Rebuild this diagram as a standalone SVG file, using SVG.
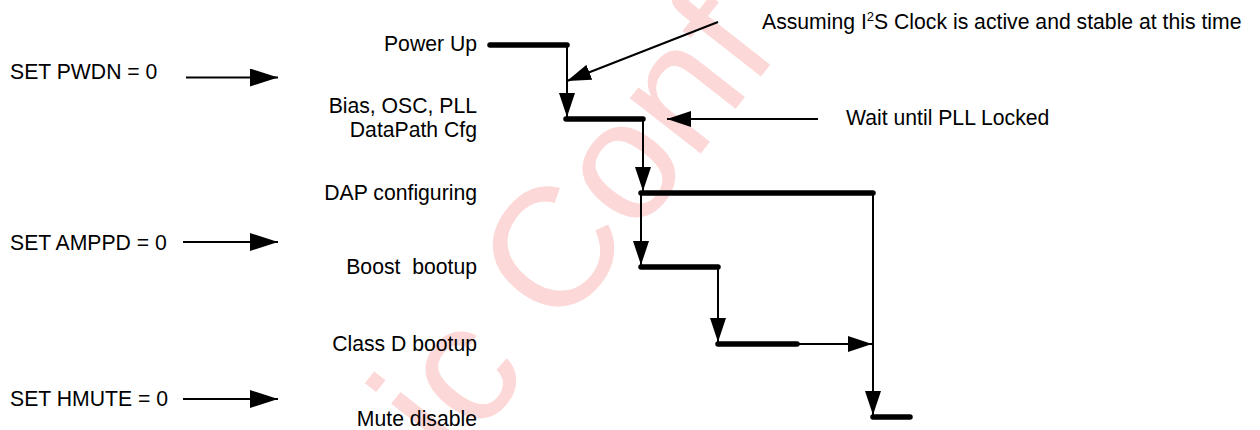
<svg xmlns="http://www.w3.org/2000/svg" width="1260" height="430" viewBox="0 0 1260 430">
<defs>
<style>
text { font-family: "Liberation Sans", Arial, sans-serif; font-size: 21.2px; fill: #000; }
.r { text-anchor: end; }
.thin { stroke: #000; stroke-width: 2; fill: none; }
.bar { stroke: #000; stroke-width: 5.5; stroke-linecap: round; fill: none; }
.wm { font-size: 170px; fill: #fcd8d8; }
</style>
<marker id="ah" markerUnits="userSpaceOnUse" markerWidth="24" markerHeight="16" refX="24" refY="8" orient="auto"><path d="M0,0 L24,8 L0,16 Z" fill="#000"/></marker>
<marker id="ahL" markerUnits="userSpaceOnUse" markerWidth="28" markerHeight="18" refX="28" refY="9" orient="auto"><path d="M0,0 L28,9 L0,18 Z" fill="#000"/></marker>
</defs>
<rect width="1260" height="430" fill="#fff"/>
<g id="watermark"><text class="wm" transform="translate(455,468) rotate(-52)">ic Conf</text></g>

<g id="set-pwdn"><text x="10" y="78.5">SET PWDN = 0</text></g>
<g id="set-amppd"><text x="10" y="249.5">SET AMPPD = 0</text></g>
<g id="set-hmute"><text x="10" y="406">SET HMUTE = 0</text></g>

<g id="power-up"><text class="r" x="477" y="51">Power Up</text><line class="bar" x1="490" y1="45" x2="567" y2="45"/></g>
<g id="bias"><text class="r" x="477" y="113">Bias, OSC, PLL</text><text class="r" x="477" y="136.5">DataPath Cfg</text><line class="bar" x1="566" y1="119" x2="643" y2="119"/></g>
<g id="dap"><text class="r" x="477" y="199.5">DAP configuring</text><line class="bar" x1="641" y1="193" x2="873" y2="193"/></g>
<g id="boost"><text class="r" x="477" y="274" xml:space="preserve">Boost  bootup</text><line class="bar" x1="641" y1="267" x2="718" y2="267"/></g>
<g id="classd"><text class="r" x="477" y="351">Class D bootup</text><line class="bar" x1="718" y1="344" x2="797" y2="344"/></g>
<g id="mute"><text class="r" x="477" y="425.5">Mute disable</text><line class="bar" x1="873" y1="417" x2="910" y2="417"/></g>

<g id="note-i2s"><text x="762" y="28.5">Assuming I<tspan font-size="13" dy="-8">2</tspan><tspan dy="8">S Clock is active and stable at this time</tspan></text></g>
<g id="note-pll"><text x="846" y="125">Wait until PLL Locked</text></g>

<g id="connectors">
<line class="thin" x1="186" y1="77.5" x2="278" y2="77.5" marker-end="url(#ahL)"/>
<line class="thin" x1="183" y1="242" x2="278" y2="242" marker-end="url(#ahL)"/>
<line class="thin" x1="183" y1="399" x2="278" y2="399" marker-end="url(#ahL)"/>
<line class="thin" x1="567" y1="45" x2="567" y2="117" marker-end="url(#ah)"/>
<line class="thin" x1="643" y1="119" x2="643" y2="191" marker-end="url(#ah)"/>
<line class="thin" x1="641" y1="193" x2="641" y2="265" marker-end="url(#ah)"/>
<line class="thin" x1="718" y1="267" x2="718" y2="342" marker-end="url(#ah)"/>
<line class="thin" x1="873" y1="193" x2="873" y2="415" marker-end="url(#ah)"/>
<line class="thin" x1="797" y1="344" x2="872" y2="344" marker-end="url(#ah)"/>
<line class="thin" x1="718" y1="22" x2="567" y2="81" marker-end="url(#ah)"/>
<line class="thin" x1="818" y1="119" x2="667" y2="119" marker-end="url(#ah)"/>
</g>
</svg>
